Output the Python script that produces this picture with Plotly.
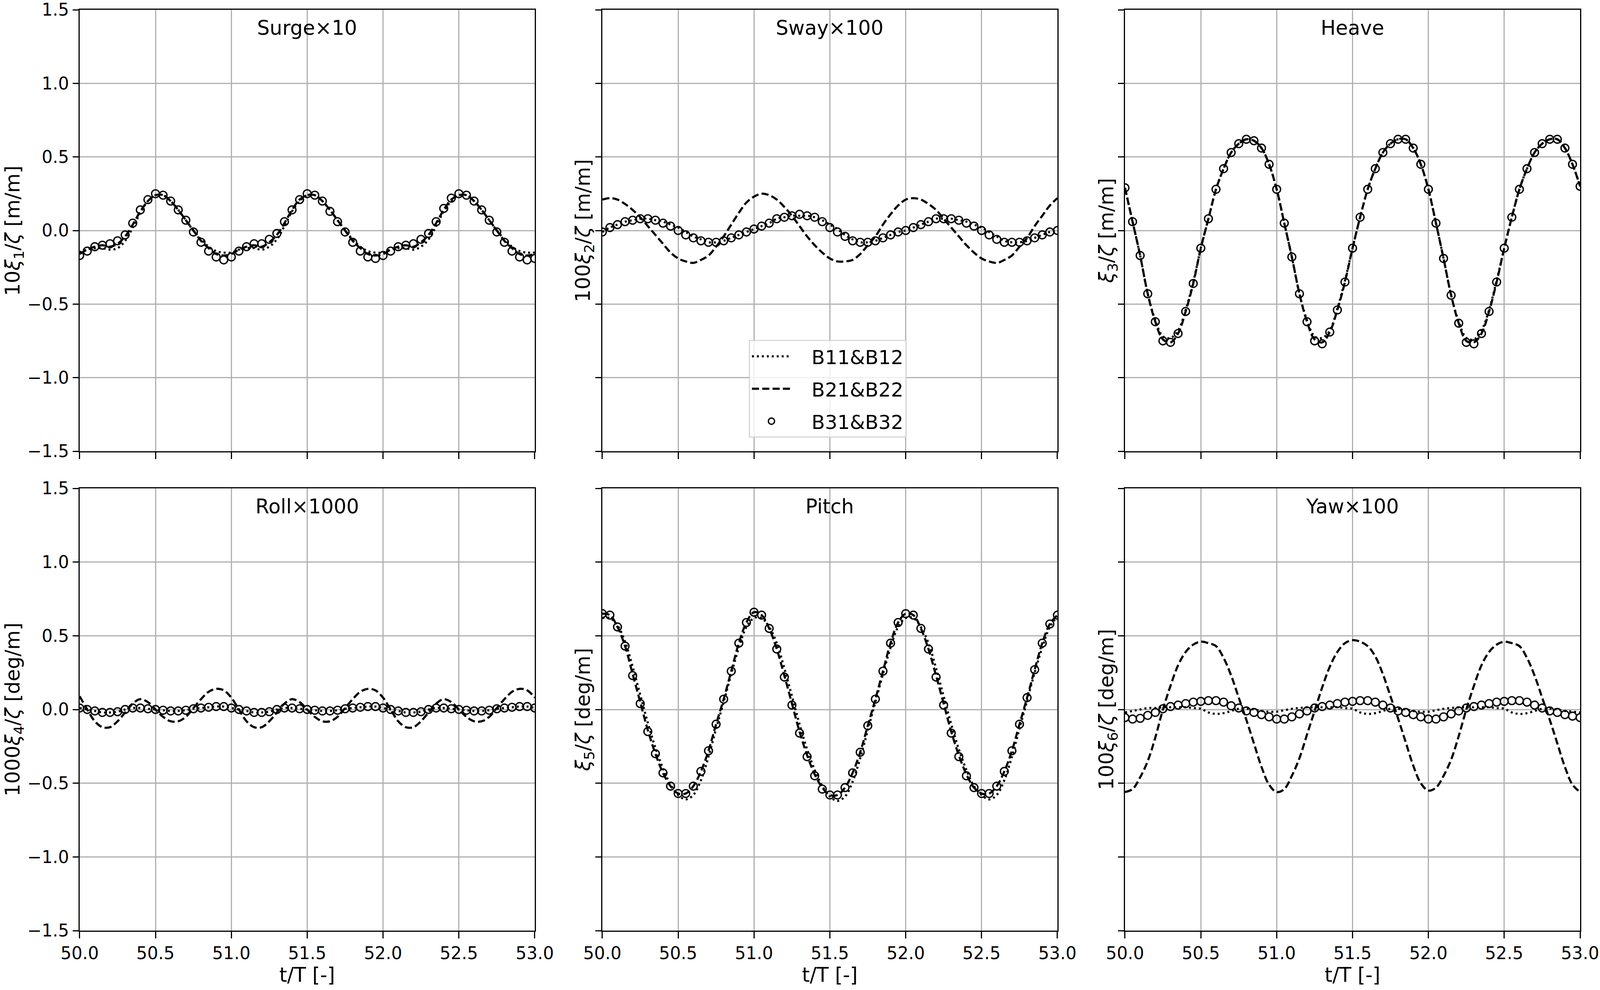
import numpy as np
import plotly.graph_objects as go
from plotly.subplots import make_subplots

# time axis t/T, sampled every 0.05
t = np.round(np.linspace(50.0, 53.0, 61), 2)

# values (B11&B12 dotted, B21&B22 dashed, B31&B32 circles)
surge_b11 = [-0.15, -0.13, -0.12, -0.12, -0.13, -0.12, -0.07, 0.02, 0.12, 0.20, 0.24, 0.24, 0.20, 0.14, 0.07, 0.00, -0.06, -0.11, -0.14, -0.15,
             -0.15, -0.13, -0.12, -0.12, -0.13, -0.11, -0.06, 0.03, 0.13, 0.20, 0.24, 0.24, 0.20, 0.14, 0.07, 0.00, -0.06, -0.11, -0.14, -0.15,
             -0.15, -0.13, -0.12, -0.12, -0.13, -0.11, -0.06, 0.03, 0.13, 0.20, 0.24, 0.24, 0.20, 0.14, 0.07, 0.00, -0.06, -0.11, -0.14, -0.15,
             -0.15]
surge_b21 = [-0.16, -0.13, -0.11, -0.10, -0.11, -0.09, -0.04, 0.04, 0.13, 0.20, 0.24, 0.24, 0.20, 0.14, 0.07, 0.00, -0.07, -0.12, -0.16, -0.17,
             -0.16, -0.13, -0.11, -0.10, -0.11, -0.08, -0.03, 0.05, 0.14, 0.21, 0.24, 0.24, 0.20, 0.14, 0.07, 0.00, -0.07, -0.12, -0.16, -0.17,
             -0.16, -0.13, -0.11, -0.10, -0.11, -0.08, -0.03, 0.05, 0.14, 0.21, 0.24, 0.24, 0.20, 0.14, 0.07, 0.00, -0.07, -0.12, -0.16, -0.17,
             -0.16]
surge_b31 = [-0.17, -0.14, -0.11, -0.10, -0.09, -0.07, -0.03, 0.05, 0.14, 0.21, 0.25, 0.24, 0.20, 0.14, 0.07, -0.01, -0.08, -0.14, -0.18, -0.20,
             -0.18, -0.14, -0.11, -0.09, -0.09, -0.06, -0.02, 0.06, 0.14, 0.21, 0.25, 0.24, 0.20, 0.13, 0.06, -0.01, -0.08, -0.14, -0.18, -0.19,
             -0.17, -0.14, -0.11, -0.10, -0.09, -0.06, -0.02, 0.06, 0.15, 0.22, 0.25, 0.24, 0.20, 0.14, 0.07, -0.01, -0.08, -0.14, -0.18, -0.20,
             -0.19]

sway_b11 = [-0.01, 0.02, 0.04, 0.06, 0.07, 0.08, 0.08, 0.07, 0.06, 0.04, 0.02, -0.01, -0.04, -0.06, -0.08, -0.08, -0.07, -0.05, -0.03, -0.01,
            0.01, 0.03, 0.05, 0.08, 0.09, 0.10, 0.10, 0.10, 0.09, 0.07, 0.04, 0.01, -0.03, -0.06, -0.08, -0.08, -0.07, -0.05, -0.03, -0.01,
            0.00, 0.02, 0.04, 0.06, 0.08, 0.08, 0.08, 0.07, 0.06, 0.04, 0.02, -0.01, -0.04, -0.07, -0.08, -0.08, -0.07, -0.05, -0.03, -0.01,
            0.00]
sway_b21 = [0.21, 0.22, 0.21, 0.18, 0.14, 0.09, 0.03, -0.03, -0.09, -0.15, -0.19, -0.21, -0.22, -0.20, -0.17, -0.11, -0.04, 0.04, 0.12, 0.19,
            0.23, 0.25, 0.24, 0.21, 0.16, 0.10, 0.03, -0.04, -0.10, -0.15, -0.19, -0.21, -0.21, -0.20, -0.16, -0.10, -0.04, 0.04, 0.11, 0.17,
            0.21, 0.22, 0.21, 0.18, 0.14, 0.08, 0.02, -0.04, -0.10, -0.15, -0.19, -0.21, -0.22, -0.20, -0.17, -0.11, -0.05, 0.03, 0.10, 0.17,
            0.22]
sway_b31 = [-0.01, 0.02, 0.04, 0.06, 0.07, 0.08, 0.08, 0.07, 0.05, 0.03, 0.00, -0.03, -0.05, -0.07, -0.08, -0.08, -0.07, -0.05, -0.03, -0.01,
            0.01, 0.03, 0.05, 0.08, 0.09, 0.10, 0.11, 0.10, 0.09, 0.06, 0.02, -0.01, -0.04, -0.07, -0.08, -0.08, -0.07, -0.05, -0.03, -0.01,
            0.00, 0.02, 0.04, 0.06, 0.08, 0.08, 0.08, 0.07, 0.05, 0.03, 0.00, -0.03, -0.06, -0.08, -0.08, -0.08, -0.07, -0.05, -0.03, -0.01,
            0.00]

heave_b11 = [0.29, 0.06, -0.17, -0.43, -0.61, -0.72, -0.73, -0.68, -0.54, -0.35, -0.12, 0.08, 0.28, 0.42, 0.53, 0.59, 0.62, 0.61, 0.56, 0.45,
             0.28, 0.05, -0.18, -0.43, -0.61, -0.72, -0.73, -0.68, -0.53, -0.34, -0.12, 0.09, 0.28, 0.42, 0.53, 0.59, 0.62, 0.62, 0.56, 0.45,
             0.28, 0.05, -0.19, -0.44, -0.62, -0.73, -0.74, -0.68, -0.54, -0.34, -0.12, 0.09, 0.28, 0.42, 0.53, 0.59, 0.62, 0.62, 0.56, 0.45,
             0.30]
heave_b21 = [0.29, 0.06, -0.17, -0.43, -0.62, -0.74, -0.76, -0.70, -0.55, -0.36, -0.12, 0.08, 0.28, 0.42, 0.53, 0.59, 0.62, 0.61, 0.56, 0.45,
             0.28, 0.05, -0.18, -0.43, -0.62, -0.74, -0.76, -0.69, -0.54, -0.35, -0.12, 0.09, 0.28, 0.42, 0.53, 0.59, 0.62, 0.62, 0.56, 0.45,
             0.28, 0.05, -0.19, -0.44, -0.63, -0.75, -0.76, -0.70, -0.55, -0.35, -0.12, 0.09, 0.28, 0.42, 0.53, 0.59, 0.62, 0.62, 0.56, 0.45,
             0.30]
heave_b31 = [0.29, 0.06, -0.17, -0.43, -0.62, -0.75, -0.76, -0.70, -0.55, -0.36, -0.12, 0.08, 0.28, 0.42, 0.53, 0.59, 0.62, 0.61, 0.56, 0.45,
             0.28, 0.05, -0.18, -0.43, -0.62, -0.75, -0.77, -0.69, -0.54, -0.35, -0.12, 0.09, 0.28, 0.42, 0.53, 0.59, 0.62, 0.62, 0.56, 0.45,
             0.28, 0.05, -0.19, -0.44, -0.63, -0.76, -0.77, -0.70, -0.55, -0.35, -0.12, 0.09, 0.28, 0.42, 0.53, 0.59, 0.62, 0.62, 0.56, 0.45,
             0.30]

roll_b11 = [0.01, 0.00, -0.01, -0.02, -0.02, -0.015, 0.00, 0.01, 0.01, 0.005, 0.00, -0.005, -0.01, -0.01, -0.005, 0.005, 0.01, 0.015, 0.02, 0.02,
            0.01, 0.00, -0.01, -0.02, -0.02, -0.015, 0.00, 0.01, 0.01, 0.005, 0.00, -0.005, -0.01, -0.01, -0.005, 0.005, 0.01, 0.015, 0.02, 0.02,
            0.01, 0.00, -0.01, -0.02, -0.02, -0.015, 0.00, 0.01, 0.01, 0.005, 0.00, -0.005, -0.01, -0.01, -0.005, 0.005, 0.01, 0.015, 0.02, 0.02,
            0.01]
roll_b21 = [0.09, 0.00, -0.08, -0.12, -0.12, -0.08, -0.02, 0.04, 0.07, 0.05, 0.00, -0.05, -0.08, -0.08, -0.05, 0.01, 0.07, 0.12, 0.14, 0.13,
            0.08, 0.00, -0.08, -0.12, -0.12, -0.08, -0.02, 0.04, 0.07, 0.05, 0.00, -0.05, -0.08, -0.08, -0.05, 0.01, 0.07, 0.12, 0.14, 0.13,
            0.08, 0.00, -0.08, -0.12, -0.12, -0.08, -0.02, 0.04, 0.07, 0.05, 0.00, -0.05, -0.08, -0.08, -0.05, 0.01, 0.07, 0.12, 0.14, 0.13,
            0.08]
roll_b31 = [0.01, 0.00, -0.01, -0.02, -0.02, -0.015, 0.00, 0.01, 0.01, 0.005, 0.00, -0.005, -0.01, -0.01, -0.005, 0.005, 0.01, 0.015, 0.02, 0.02,
            0.01, 0.00, -0.01, -0.02, -0.02, -0.015, 0.00, 0.01, 0.01, 0.005, 0.00, -0.005, -0.01, -0.01, -0.005, 0.005, 0.01, 0.015, 0.02, 0.02,
            0.01, 0.00, -0.01, -0.02, -0.02, -0.015, 0.00, 0.01, 0.01, 0.005, 0.00, -0.005, -0.01, -0.01, -0.005, 0.005, 0.01, 0.015, 0.02, 0.02,
            0.01]

pitch_b11 = [0.62, 0.62, 0.57, 0.46, 0.29, 0.10, -0.09, -0.26, -0.40, -0.51, -0.58, -0.61, -0.58, -0.48, -0.32, -0.13, 0.05, 0.24, 0.42, 0.56,
             0.62, 0.62, 0.56, 0.45, 0.28, 0.09, -0.10, -0.27, -0.41, -0.52, -0.59, -0.62, -0.59, -0.49, -0.33, -0.14, 0.05, 0.24, 0.42, 0.56,
             0.62, 0.62, 0.56, 0.45, 0.28, 0.09, -0.10, -0.27, -0.41, -0.52, -0.58, -0.61, -0.58, -0.48, -0.32, -0.13, 0.06, 0.25, 0.42, 0.56,
             0.63]
pitch_b21 = [0.65, 0.64, 0.56, 0.43, 0.24, 0.05, -0.14, -0.30, -0.43, -0.52, -0.57, -0.57, -0.52, -0.42, -0.28, -0.10, 0.07, 0.26, 0.45, 0.59,
             0.66, 0.64, 0.55, 0.41, 0.23, 0.04, -0.15, -0.31, -0.44, -0.53, -0.58, -0.58, -0.53, -0.43, -0.29, -0.11, 0.07, 0.26, 0.45, 0.59,
             0.65, 0.64, 0.55, 0.41, 0.23, 0.04, -0.15, -0.31, -0.44, -0.53, -0.57, -0.57, -0.52, -0.42, -0.28, -0.10, 0.08, 0.27, 0.45, 0.58,
             0.64]
pitch_b31 = [0.65, 0.64, 0.56, 0.43, 0.23, 0.04, -0.15, -0.30, -0.43, -0.52, -0.57, -0.57, -0.52, -0.42, -0.28, -0.10, 0.07, 0.26, 0.45, 0.59,
             0.66, 0.64, 0.55, 0.41, 0.22, 0.03, -0.16, -0.32, -0.45, -0.54, -0.58, -0.58, -0.53, -0.43, -0.29, -0.11, 0.07, 0.26, 0.45, 0.59,
             0.65, 0.64, 0.55, 0.41, 0.22, 0.03, -0.16, -0.32, -0.45, -0.53, -0.57, -0.57, -0.52, -0.42, -0.28, -0.10, 0.08, 0.27, 0.45, 0.58,
             0.64]

yaw_b11 = [-0.02, -0.01, 0.00, 0.01, 0.01, 0.015, 0.015, 0.015, 0.015, 0.01, 0.005, -0.02, -0.03, -0.025, -0.01, 0.005, 0.005, 0.00, -0.01, -0.015,
           -0.015, -0.005, 0.005, 0.01, 0.015, 0.015, 0.015, 0.015, 0.015, 0.01, 0.005, -0.02, -0.03, -0.025, -0.01, 0.005, 0.005, 0.00, -0.01, -0.015,
           -0.015, -0.005, 0.005, 0.01, 0.015, 0.015, 0.015, 0.015, 0.015, 0.01, 0.005, -0.02, -0.03, -0.025, -0.01, 0.005, 0.005, 0.00, -0.01, -0.015,
           -0.02]
yaw_b21 = [-0.56, -0.54, -0.46, -0.35, -0.19, 0.00, 0.16, 0.30, 0.39, 0.44, 0.46, 0.45, 0.43, 0.35, 0.23, 0.08, -0.07, -0.23, -0.39, -0.51,
           -0.56, -0.54, -0.45, -0.33, -0.17, -0.01, 0.15, 0.29, 0.39, 0.45, 0.47, 0.46, 0.43, 0.36, 0.24, 0.09, -0.06, -0.22, -0.38, -0.50,
           -0.55, -0.53, -0.45, -0.34, -0.18, 0.00, 0.16, 0.30, 0.39, 0.44, 0.46, 0.45, 0.43, 0.35, 0.23, 0.08, -0.07, -0.23, -0.39, -0.51,
           -0.56]
yaw_b31 = [-0.055, -0.065, -0.06, -0.04, -0.02, 0.005, 0.02, 0.03, 0.04, 0.05, 0.055, 0.06, 0.06, 0.05, 0.025, 0.01, -0.01, -0.02, -0.035, -0.05,
           -0.065, -0.065, -0.05, -0.03, -0.01, 0.01, 0.02, 0.03, 0.04, 0.05, 0.055, 0.06, 0.06, 0.05, 0.03, 0.01, -0.01, -0.02, -0.035, -0.05,
           -0.065, -0.065, -0.05, -0.03, -0.01, 0.01, 0.02, 0.03, 0.04, 0.05, 0.055, 0.06, 0.06, 0.05, 0.03, 0.01, -0.01, -0.02, -0.035, -0.045,
           -0.055]

titles = ["Surge×10", "Sway×100", "Heave", "Roll×1000", "Pitch", "Yaw×100"]
ylabels = ["10<i>ξ</i><sub>1</sub>/<i>ζ</i> [m/m]", "100<i>ξ</i><sub>2</sub>/<i>ζ</i> [m/m]", "<i>ξ</i><sub>3</sub>/<i>ζ</i> [m/m]",
           "1000<i>ξ</i><sub>4</sub>/<i>ζ</i> [deg/m]", "<i>ξ</i><sub>5</sub>/<i>ζ</i> [deg/m]", "100<i>ξ</i><sub>6</sub>/<i>ζ</i> [deg/m]"]
b11_all = [surge_b11, sway_b11, heave_b11, roll_b11, pitch_b11, yaw_b11]
b21_all = [surge_b21, sway_b21, heave_b21, roll_b21, pitch_b21, yaw_b21]
b31_all = [surge_b31, sway_b31, heave_b31, roll_b31, pitch_b31, yaw_b31]
yticks = [-1.5, -1.0, -0.5, 0.0, 0.5, 1.0, 1.5]
xticks = [50.0, 50.5, 51.0, 51.5, 52.0, 52.5, 53.0]

# layout measured in reference pixels (4500x2534); the page itself is 4096 wide
REF_W, REF_H = 4500, 2534
W, H = 4096, 2534
kx = W / REF_W      # horizontal squeeze
FONT = "DejaVu Sans"
col_px = [(224, 1504), (1694, 2974), (3164, 4444)]
row_px = [(25, 1155), (1250, 2382)]
ylab_x = [40, 1644, 3116]


def fx(v):
    return v / REF_W


def fy(v):
    return 1 - v / REF_H


common = dict(ticks="outside", tickwidth=2.6, tickcolor="black",
              showline=True, mirror=True, linecolor="black", linewidth=2.6,
              showgrid=True, gridcolor="#b0b0b0", gridwidth=2.6, zeroline=False,
              automargin=False, tickformat=".1f", ticklabeloverflow="allow",
              tickfont=dict(family=FONT, size=44, color="black"))

fig = make_subplots(rows=2, cols=3)

for i in range(6):
    r, c = divmod(i, 3)
    first = i == 0
    fig.add_trace(go.Scatter(x=t, y=b11_all[i], mode="lines", name="\u00a0\u00a0\u00a0B11&B12", legendgroup="b11",
                             showlegend=first,
                             line=dict(color="black", width=5.5, dash=f"{5.5 * kx:.1f}px,{8.5 * kx:.1f}px", shape="spline")),
                  row=r + 1, col=c + 1)
    fig.add_trace(go.Scatter(x=t, y=b21_all[i], mode="lines", name="\u00a0\u00a0\u00a0B21&B22", legendgroup="b21",
                             showlegend=first,
                             line=dict(color="black", width=5.5, dash=f"{20 * kx:.1f}px,{9 * kx:.1f}px", shape="spline")),
                  row=r + 1, col=c + 1)
    fig.add_trace(go.Scatter(x=t, y=b31_all[i], mode="markers", name="\u00a0\u00a0\u00a0B31&B32", legendgroup="b31",
                             showlegend=first,
                             marker=dict(symbol="circle-open", size=20, color="black",
                                         line=dict(width=3.4, color="black"))),
                  row=r + 1, col=c + 1)

    n = "" if i == 0 else str(i + 1)
    x0, x1 = col_px[c]
    y0, y1 = row_px[r]
    fig.layout["xaxis" + n].update(domain=[fx(x0), fx(x1)], range=[50, 53], tickvals=xticks, ticklen=17,
                                   showticklabels=(r == 1), **common)
    fig.layout["yaxis" + n].update(domain=[fy(y1), fy(y0)], range=[-1.5, 1.5], tickvals=yticks, ticklen=17 * kx,
                                   showticklabels=(c == 0), **common)

    # panel title inside the top of the axes
    fig.add_annotation(text=titles[i], x=fx((x0 + x1) / 2), y=fy(y0 + 46), xref="paper", yref="paper",
                       showarrow=False, xanchor="center", yanchor="middle",
                       font=dict(family=FONT, size=51, color="black"))
    # y label
    fig.add_annotation(text=ylabels[i], x=fx(ylab_x[c]), y=fy((y0 + y1) / 2), xref="paper", yref="paper",
                       showarrow=False, xanchor="center", yanchor="middle", textangle=-90,
                       font=dict(family=FONT, size=51, color="black"))
    if r == 1:
        fig.add_annotation(text="t/T [-]", x=fx((x0 + x1) / 2), y=fy(2495), xref="paper", yref="paper",
                           showarrow=False, xanchor="center", yanchor="middle",
                           font=dict(family=FONT, size=51, color="black"))

fig.update_layout(
    width=W, height=H, margin=dict(l=0, r=0, t=0, b=0),
    paper_bgcolor="white", plot_bgcolor="white",
    font=dict(family=FONT, size=44, color="black"),
    legend=dict(x=fx(2106), y=fy(870), xanchor="left", yanchor="top",
                bgcolor="rgba(255,255,255,0.8)", bordercolor="#d6d6d6", borderwidth=3,
                font=dict(family=FONT, size=50, color="black"), itemwidth=100, tracegroupgap=15),
)

fig.write_html("out.html", config={"displayModeBar": False},
               post_script="document.body.style.margin='0px';")
